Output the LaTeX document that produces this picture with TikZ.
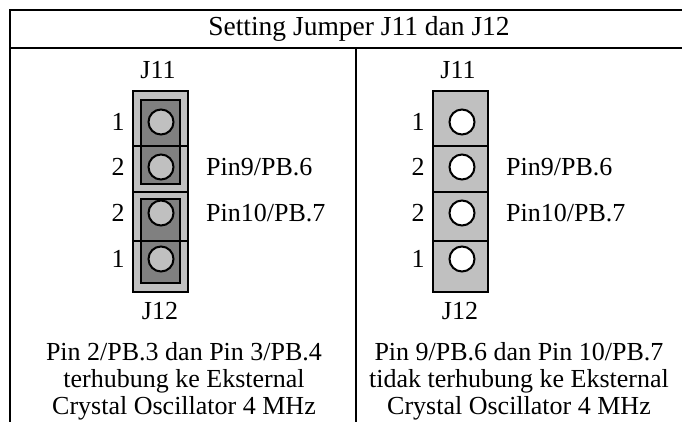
\documentclass[tikz,border=0pt]{standalone}
\usepackage{fontspec}
\setmainfont{Liberation Serif}
\usepackage{tikz}
\definecolor{BodyGray}{RGB}{192,192,192}
\definecolor{CapGray}{RGB}{128,128,128}
\tikzstyle{Frame}=[line width=2.2pt]
\tikzstyle{Body}=[line width=2pt]
\tikzstyle{Pin}=[circle, draw, line width=2pt, minimum size=25pt, inner sep=0pt]
\tikzstyle{Label}=[font=\fontsize{26}{27}\selectfont, inner sep=0pt]

\begin{document}
\begin{tikzpicture}[x=1pt,y=-1pt]
\useasboundingbox (0,0) rectangle (682,422);

\draw[Frame] (682,10) -- (10,10) -- (10,422);
\draw[Frame] (10,48) -- (682,48);
\draw[Frame] (356,48) -- (356,422);
\node[Label, font=\fontsize{27.5}{28}\selectfont] (title) at (359,29) {Setting Jumper J11 dan J12};

% jumper kiri, terpasang
\draw[Body, fill=BodyGray] (133,91) rectangle (188,292);
\draw[Body, fill=CapGray] (141,100) rectangle (180,184);
\draw[Body, fill=CapGray] (141,199) rectangle (180,283);
\foreach \y in {146,192,241} \draw[Body] (133,\y) -- (189,\y);
\foreach \y/\n/\p in {122/1/1,167/2/2,213/3/2,259/4/1} {
  \node[Pin, fill=BodyGray] (LP\n) at (161,\y) {};
  \node[Label] (LN\n) at (118,\y) {\p};
}
\node[Label] (LJ11) at (158,70) {J11};
\node[Label] (LJ12) at (160,311) {J12};
\node[Label, anchor=west] (LPB6) at (206,167) {Pin9/PB.6};
\node[Label, anchor=west] (LPB7) at (206,213) {Pin10/PB.7};
\node[Label, align=center] (LText) at (184,381) {Pin 2/PB.3 dan Pin 3/PB.4\\terhubung ke Eksternal\\Crystal Oscillator 4 MHz};

% jumper kanan, terbuka
\draw[Body, fill=BodyGray] (433,91) rectangle (488,292);
\foreach \y in {146,192,241} \draw[Body] (433,\y) -- (489,\y);
\foreach \y/\n/\p in {122/1/1,167/2/2,213/3/2,259/4/1} {
  \node[Pin, fill=white] (RP\n) at (462,\y) {};
  \node[Label] (RN\n) at (418,\y) {\p};
}
\node[Label] (RJ11) at (458,70) {J11};
\node[Label] (RJ12) at (460,311) {J12};
\node[Label, anchor=west] (RPB6) at (506,167) {Pin9/PB.6};
\node[Label, anchor=west] (RPB7) at (506,213) {Pin10/PB.7};
\node[Label, align=center] (RText) at (519,381) {Pin 9/PB.6 dan Pin 10/PB.7\\tidak terhubung ke Eksternal\\Crystal Oscillator 4 MHz};

\end{tikzpicture}
\end{document}
